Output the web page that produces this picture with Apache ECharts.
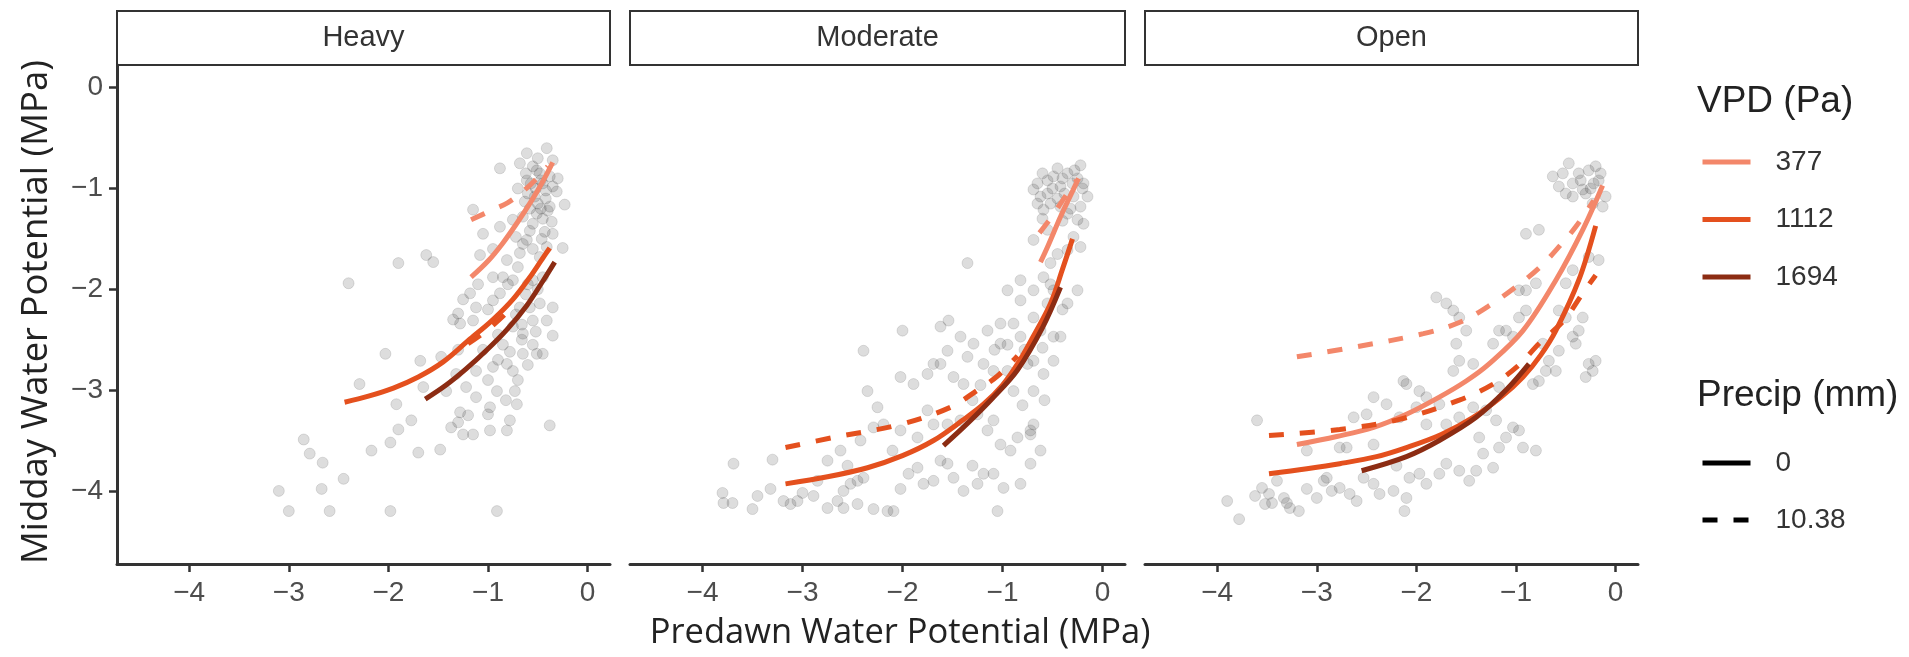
<!DOCTYPE html>
<html>
<head>
<meta charset="utf-8">
<title>Midday vs predawn water potential</title>
<script src="https://cdn.jsdelivr.net/npm/echarts@6/dist/echarts.min.js"></script>
<style>
  html, body { margin: 0; padding: 0; background: #fff; }
  #chart { width: 1909px; height: 657px; }
</style>
</head>
<body>
<div id="chart"></div>
<script>
// panel / legend labels
var panels = ['Heavy', 'Moderate', 'Open'];
var vpdLevels = ['377', '1112', '1694'];
var precipLevels = ['0', '10.38'];
var xTicks = [-4, -3, -2, -1, 0];
var yTicks = [0, -1, -2, -3, -4];

// observed points, [predawn, midday] (MPa)
var heavyPts = [
  [-2.85,-3.49],[-2.79,-3.63],[-2.66,-3.72],[-2.45,-3.88],[-3.10,-4.00],[-2.67,-3.98],[-3.00,-4.20],[-2.59,-4.20],
  [-1.98,-4.20],[-0.91,-4.20],[-2.17,-3.60],[-1.98,-3.52],[-1.90,-3.39],[-1.77,-3.30],[-1.70,-3.62],[-1.48,-3.59],
  [-1.92,-3.14],[-1.65,-2.97],[-2.29,-2.94],[-2.03,-2.64],[-2.40,-1.94],[-1.90,-1.74],[-1.62,-1.66],[-1.55,-1.73],
  [-1.08,-1.66],[-1.15,-1.21],[-0.88,-0.80],[-0.41,-0.60],[-0.61,-0.65],[-0.38,-3.35],[-0.73,-3.01],[-0.71,-3.14],
  [-0.91,-3.01],[-0.98,-3.17],[-1.00,-3.24],[-1.28,-3.22],[-1.30,-3.32],[-1.37,-3.37],[-1.25,-3.44],[-1.15,-3.44],
  [-0.98,-3.40],[-0.81,-3.40],[-0.78,-3.30],[-1.47,-2.67],[-1.68,-2.71],[-1.30,-2.24],[-1.18,-2.04],[-1.28,-2.34],
  [-1.15,-2.31],[-0.35,-2.46],[-0.45,-2.64],[-0.25,-1.59],[-0.23,-1.16],[-0.43,-1.43],[-0.51,-1.25],[-0.88,-1.38],
  [-0.75,-1.31],[-0.95,-1.88],[-0.88,-2.04],[-0.75,-2.37],[-0.65,-2.44],[-0.58,-2.18],[-0.48,-2.14],[-0.41,-2.31],
  [-0.51,-2.64],[-0.65,-2.64],[-0.81,-2.74],[-0.75,-2.81],[-0.95,-2.77],[-1.12,-2.81],[-1.22,-2.97],[-1.32,-2.84],
  [-1.42,-3.01],[-1.12,-3.07],[-0.61,-0.92],[-0.51,-0.82],[-0.35,-0.98],[-0.31,-1.03],[-0.38,-1.18],[-0.35,-1.45],
  [-0.41,-1.58],[-0.61,-1.51],[-0.68,-1.64],[-0.81,-1.71],[-0.85,-1.88],[-0.75,-1.91],[-0.95,-2.11],[-1.12,-2.18],
  [-0.35,-2.18],[-0.55,-2.31],[-0.68,-2.18],[-0.55,-1.91],[-0.45,-1.88],[-0.55,-0.78],[-0.48,-0.85],[-0.45,-0.95],
  [-0.52,-1.00],[-0.60,-1.05],[-0.42,-1.10],[-0.50,-1.15],[-0.58,-1.20],[-0.65,-1.28],[-0.45,-1.30],[-0.55,-1.35],
  [-0.38,-0.88],[-0.62,-0.85],[-0.70,-1.00],[-0.40,-1.22],[-0.50,-0.70],[-0.68,-0.75],[-0.35,-0.72],[-0.30,-0.90],
  [-0.65,-1.55],[-0.55,-1.60],[-0.48,-1.68],[-0.70,-1.78],[-0.60,-1.95],[-0.50,-2.00],[-0.62,-2.05],[-0.72,-2.25],
  [-0.66,-2.50],[-0.55,-2.55],[-0.60,-2.75],[-0.70,-2.90],[-0.85,-2.55],[-0.90,-2.45],[-1.05,-2.60],[-1.00,-2.90],
  [-0.82,-3.10],[-1.20,-3.25],[-1.30,-2.60],[-1.35,-2.30],[-1.25,-2.10],[-1.10,-1.95],[-1.00,-2.20],[-0.95,-1.60],
  [-1.05,-1.45],[-0.47,-0.92],[-0.57,-0.95],[-0.42,-1.02],[-0.53,-1.08],[-0.63,-1.13],[-0.47,-1.20],[-0.36,-1.33],
  [-0.58,-1.42],[-0.46,-1.50],[-0.72,-1.48],[-0.80,-1.95],[-0.66,-2.35],[-0.52,-2.42],[-0.78,-2.62],[-0.90,-2.70]
];
var moderatePts = [
  [-3.69,-3.73],[-3.80,-4.02],[-3.79,-4.12],[-3.70,-4.12],[-3.50,-4.18],[-3.30,-3.69],[-3.32,-3.98],[-3.19,-4.10],
  [-3.12,-4.13],[-3.05,-4.10],[-3.00,-4.02],[-2.89,-4.05],[-2.75,-4.17],[-2.65,-4.10],[-2.59,-4.00],[-2.52,-3.93],
  [-2.45,-3.90],[-2.39,-3.87],[-2.59,-4.17],[-2.45,-4.13],[-2.29,-4.18],[-2.15,-4.20],[-2.09,-4.20],[-2.02,-3.98],
  [-1.94,-3.83],[-1.85,-3.77],[-1.79,-3.93],[-1.69,-3.90],[-1.62,-3.70],[-1.55,-3.73],[-1.49,-3.87],[-1.39,-4.00],
  [-1.25,-3.93],[-1.19,-3.83],[-1.09,-3.83],[-1.05,-4.20],[-0.99,-3.97],[-0.82,-3.93],[-0.72,-3.73],[-0.62,-3.60],
  [-0.72,-3.44],[-0.69,-3.34],[-0.85,-3.47],[-0.92,-3.60],[-1.02,-3.54],[-1.09,-3.30],[-1.15,-3.40],[-1.25,-3.24],
  [-1.42,-3.30],[-1.55,-3.34],[-1.69,-3.34],[-1.85,-3.47],[-2.02,-3.40],[-2.19,-3.34],[-2.29,-3.37],[-2.42,-3.50],
  [-2.62,-3.60],[-2.75,-3.70],[-2.25,-3.17],[-2.35,-3.01],[-2.02,-2.87],[-1.89,-2.94],[-1.75,-2.84],[-1.69,-2.74],
  [-1.62,-2.74],[-1.49,-2.87],[-1.39,-2.94],[-1.35,-2.67],[-1.55,-2.61],[-1.42,-2.47],[-1.29,-2.54],[-1.15,-2.41],
  [-1.02,-2.34],[-0.89,-2.34],[-0.82,-2.47],[-1.02,-2.54],[-1.19,-2.74],[-1.09,-2.81],[-0.95,-2.81],[-0.89,-3.01],
  [-0.75,-2.74],[-0.69,-2.71],[-0.62,-2.41],[-0.55,-2.14],[-0.49,-2.01],[-0.69,-2.28],[-0.82,-2.11],[-0.95,-2.01],
  [-0.82,-1.91],[-0.69,-2.01],[-0.59,-1.88],[-0.49,-2.47],[-0.42,-2.47],[-0.35,-2.14],[-0.25,-2.01],[-0.49,-2.71],
  [-0.59,-2.84],[-0.69,-3.01],[-2.00,-2.41],[-2.39,-2.61],[-1.62,-2.37],[-1.54,-2.31],[-1.35,-1.74],[-0.52,-1.74],
  [-0.45,-1.65],[-0.35,-1.61],[-0.69,-1.51],[-0.62,-1.08],[-0.55,-0.92],[-0.49,-0.88],[-0.42,-0.98],[-0.35,-0.85],
  [-0.22,-0.77],[-0.19,-0.95],[-0.29,-1.08],[-0.22,-1.18],[-0.15,-1.08],[-0.19,-1.35],[-0.25,-1.31],[-0.35,-1.25],
  [-0.42,-1.18],[-0.52,-1.15],[-0.59,-1.21],[-0.65,-1.15],[-0.69,-1.01],[-0.55,-1.41],[-0.29,-1.48],[-0.22,-1.58],
  [-0.72,-3.40],[-0.60,-0.85],[-0.45,-0.80],[-0.40,-0.90],[-0.50,-1.00],[-0.38,-1.05],[-0.30,-0.95],[-0.25,-0.90],
  [-0.45,-1.10],[-0.55,-1.05],[-0.32,-1.20],[-0.40,-1.32],[-0.60,-1.30],[-0.28,-0.82],[-0.65,-0.95],[-0.20,-1.00],
  [-0.52,-1.95],[-0.40,-2.20],[-0.60,-2.58],[-0.78,-2.60],[-0.95,-2.55],[-1.08,-2.60],[-1.22,-2.95],[-1.30,-3.10],
  [-0.80,-3.15],[-0.58,-3.10],[-1.75,-3.20],[-2.10,-3.60],[-2.55,-3.75],[-2.85,-3.90],[-3.45,-4.05],[-1.30,-3.75]
];
var openPts = [
  [-3.90,-4.10],[-3.78,-4.28],[-3.55,-3.97],[-3.52,-4.13],[-3.48,-4.03],[-3.40,-3.90],[-3.33,-4.07],[-3.27,-4.17],
  [-3.18,-4.20],[-3.10,-3.98],[-3.00,-4.07],[-2.93,-3.90],[-2.77,-3.97],[-2.67,-4.03],[-2.60,-4.10],[-2.53,-3.87],
  [-2.43,-3.93],[-2.37,-4.03],[-2.23,-4.00],[-2.12,-4.20],[-2.10,-4.07],[-2.07,-3.87],[-1.97,-3.83],[-1.90,-3.93],
  [-1.77,-3.83],[-1.70,-3.73],[-1.57,-3.80],[-1.47,-3.90],[-1.40,-3.80],[-1.33,-3.63],[-1.23,-3.77],[-1.17,-3.57],
  [-1.10,-3.47],[-1.03,-3.37],[-0.97,-3.40],[-0.93,-3.57],[-0.80,-3.60],[-1.20,-3.30],[-1.30,-3.20],[-1.43,-3.17],
  [-1.57,-3.27],[-1.70,-3.34],[-1.77,-3.14],[-1.90,-3.07],[-1.97,-3.01],[-2.10,-2.94],[-2.13,-2.91],[-2.30,-3.14],
  [-2.43,-3.07],[-2.50,-3.24],[-2.63,-3.27],[-2.70,-3.57],[-2.77,-3.57],[-2.43,-3.54],[-3.60,-3.30],[-3.10,-3.60],
  [-2.90,-3.87],[-1.80,-2.08],[-1.63,-2.21],[-1.70,-2.14],[-1.57,-2.28],[-1.50,-2.41],[-1.60,-2.54],[-1.63,-2.81],
  [-1.57,-2.71],[-1.43,-2.74],[-1.23,-2.54],[-1.17,-2.41],[-1.10,-2.41],[-1.03,-2.47],[-0.97,-2.28],[-0.90,-2.21],
  [-0.97,-2.01],[-0.90,-2.01],[-0.80,-1.94],[-0.77,-1.41],[-0.90,-1.45],[-0.57,-2.21],[-0.50,-2.28],[-0.43,-2.47],
  [-0.40,-2.54],[-0.37,-2.41],[-0.33,-2.28],[-0.27,-2.74],[-0.23,-2.81],[-0.20,-2.71],[-0.30,-2.87],[-0.50,-1.94],
  [-0.43,-1.81],[-0.27,-1.68],[-0.17,-1.71],[-0.63,-0.88],[-0.57,-0.98],[-0.50,-1.05],[-0.43,-0.95],[-0.37,-0.85],
  [-0.27,-0.82],[-0.20,-0.78],[-0.17,-0.92],[-0.10,-1.08],[-0.13,-1.18],[-0.23,-1.15],[-0.30,-1.05],[-0.43,-1.08],
  [-0.53,-0.85],[-0.47,-0.75],[-0.33,-1.01],[-0.73,-2.54],[-0.67,-2.71],[-0.57,-2.61],[-0.60,-2.81],[-1.17,-2.97],
  [-0.83,-2.94],[-2.00,-3.17],[-2.17,-3.27],[-1.90,-3.34],[-1.37,-3.47],[-0.77,-2.91],[-0.70,-2.81],[-0.22,-0.95],
  [-0.15,-0.85],[-0.35,-0.92],[-0.25,-1.00],[-3.45,-4.12],[-3.62,-4.05],[-3.30,-4.12],[-2.85,-4.00],[-2.20,-3.75]
];

// fitted curves, [predawn, midday]
var heavy377Solid = [[-1.17,-1.88],[-1.00,-1.72],[-0.85,-1.54],[-0.70,-1.33],[-0.55,-1.10],[-0.45,-0.93],[-0.35,-0.74]];
var heavy377Dash = [[-1.17,-1.31],[-0.95,-1.21],[-0.80,-1.14],[-0.65,-1.03],[-0.52,-0.91],[-0.40,-0.78]];
var heavy1112Solid = [[-2.44,-3.12],[-2.20,-3.06],[-1.95,-2.98],[-1.70,-2.87],[-1.45,-2.72],[-1.20,-2.51],[-0.95,-2.30],[-0.75,-2.10],[-0.58,-1.88],[-0.45,-1.69],[-0.38,-1.59]];
var heavy1112Dash = [[-1.20,-2.54],[-1.00,-2.40],[-0.80,-2.22]];
var heavy1694Solid = [[-1.63,-3.09],[-1.42,-2.95],[-1.22,-2.79],[-1.02,-2.61],[-0.81,-2.40],[-0.61,-2.16],[-0.45,-1.92],[-0.33,-1.73]];

var moderate377Solid = [[-0.62,-1.73],[-0.55,-1.58],[-0.42,-1.28],[-0.32,-1.07],[-0.24,-0.90]];
var moderate377Dash = [[-0.63,-1.44],[-0.50,-1.27],[-0.38,-1.09],[-0.26,-0.92]];
var moderate1112Solid = [[-3.17,-3.93],[-2.75,-3.86],[-2.35,-3.77],[-2.00,-3.65],[-1.69,-3.50],[-1.40,-3.30],[-1.19,-3.14],[-1.00,-2.95],[-0.85,-2.74],[-0.70,-2.48],[-0.52,-2.14],[-0.40,-1.80],[-0.30,-1.50]];
var moderate1112Dash = [[-3.17,-3.57],[-2.69,-3.47],[-2.02,-3.34],[-1.52,-3.17],[-1.25,-3.00],[-1.05,-2.86],[-0.85,-2.66]];
var moderate1694Solid = [[-1.59,-3.55],[-1.35,-3.33],[-1.10,-3.08],[-0.85,-2.80],[-0.60,-2.38],[-0.42,-1.98]];

var open377Solid = [[-3.20,-3.54],[-2.80,-3.46],[-2.43,-3.37],[-2.10,-3.24],[-1.77,-3.07],[-1.50,-2.91],[-1.27,-2.74],[-0.93,-2.41],[-0.60,-1.91],[-0.33,-1.41],[-0.13,-0.97]];
var open377Dash = [[-3.20,-2.67],[-2.60,-2.57],[-1.93,-2.44],[-1.57,-2.33],[-1.28,-2.17],[-1.02,-1.99],[-0.77,-1.79],[-0.57,-1.58],[-0.40,-1.38],[-0.22,-1.12]];
var open1112Solid = [[-3.48,-3.83],[-3.10,-3.78],[-2.77,-3.73],[-2.40,-3.66],[-2.10,-3.57],[-1.75,-3.44],[-1.43,-3.27],[-1.15,-3.07],[-0.93,-2.87],[-0.75,-2.65],[-0.60,-2.41],[-0.37,-1.91],[-0.20,-1.37]];
var open1112Dash = [[-3.48,-3.45],[-2.77,-3.39],[-2.17,-3.29],[-1.57,-3.10],[-1.23,-2.94],[-0.98,-2.76],[-0.77,-2.54],[-0.52,-2.31],[-0.33,-2.04],[-0.20,-1.86]];
var open1694Solid = [[-2.55,-3.80],[-2.10,-3.66],[-1.77,-3.50],[-1.40,-3.27],[-1.10,-3.00],[-0.87,-2.74]];

var vpdColors = {'377': '#f3876a', '1112': '#e4501e', '1694': '#8c2c13'};
var dashPattern = [15, 16];

var panelPts = [heavyPts, moderatePts, openPts];
var panelCurves = [
  [['377', heavy377Solid, 0], ['377', heavy377Dash, 1], ['1112', heavy1112Solid, 0], ['1112', heavy1112Dash, 1], ['1694', heavy1694Solid, 0]],
  [['377', moderate377Solid, 0], ['377', moderate377Dash, 1], ['1112', moderate1112Solid, 0], ['1112', moderate1112Dash, 1], ['1694', moderate1694Solid, 0]],
  [['377', open377Solid, 0], ['377', open377Dash, 1], ['1112', open1112Solid, 0], ['1112', open1112Dash, 1], ['1694', open1694Solid, 0]]
];

var gridBoxes = [{left: 117, width: 493}, {left: 630, width: 495}, {left: 1145, width: 493}];
var plotTop = 65, plotHeight = 499;

function minusFmt(v) {
    return v < 0 ? '\u2212' + Math.abs(v) : String(v);
}

var grids = [], xAxes = [], yAxes = [], series = [], graphics = [];

panels.forEach(function (name, i) {
    var g = gridBoxes[i];
    grids.push({left: g.left, top: plotTop, width: g.width, height: plotHeight, containLabel: false, outerBoundsMode: 'none'});
    xAxes.push({
        type: 'value', gridIndex: i, min: -4.725, max: 0.225,
        axisLine: {show: true, onZero: false, lineStyle: {color: '#333', width: 3}},
        axisTick: {show: true, length: 8, customValues: xTicks, lineStyle: {color: '#333', width: 2.5}},
        axisLabel: {customValues: xTicks, formatter: minusFmt, fontSize: 28, color: '#4d4d4d', margin: 15, fontFamily: 'Liberation Sans'},
        splitLine: {show: false}
    });
    yAxes.push({
        type: 'value', gridIndex: i, min: -4.725, max: 0.225, show: i === 0,
        axisLine: {show: true, onZero: false, lineStyle: {color: '#333', width: 3}},
        axisTick: {show: true, length: 8, customValues: yTicks, lineStyle: {color: '#333', width: 2.5}},
        axisLabel: {customValues: yTicks, formatter: minusFmt, fontSize: 28, color: '#4d4d4d', margin: 14, fontFamily: 'Liberation Sans'},
        splitLine: {show: false}
    });
    series.push({
        type: 'scatter', name: 'obs', xAxisIndex: i, yAxisIndex: i, data: panelPts[i],
        symbolSize: 11, silent: true,
        itemStyle: {color: 'rgba(0,0,0,0.17)', borderColor: 'rgba(0,0,0,0.14)', borderWidth: 1}
    });
    panelCurves[i].forEach(function (c) {
        series.push({
            type: 'line', name: c[0], xAxisIndex: i, yAxisIndex: i, data: c[1],
            smooth: 0.35, symbol: 'none', silent: true, z: 3,
            color: vpdColors[c[0]],
            lineStyle: {color: vpdColors[c[0]], width: 5, type: c[2] ? dashPattern : 'solid', cap: 'butt'}
        });
    });
    // facet strip
    graphics.push({
        type: 'rect', shape: {x: g.left, y: 11, width: g.width, height: 54},
        style: {fill: '#fff', stroke: '#333', lineWidth: 2}
    });
    graphics.push({
        type: 'text', x: g.left + g.width / 2, y: 38,
        style: {text: name, fontSize: 29, fontFamily: 'Liberation Sans', fill: '#333', align: 'center', verticalAlign: 'middle'}
    });
});

// legend-only series for precipitation line types
series.push({type: 'line', name: '0', xAxisIndex: 0, yAxisIndex: 0, data: [], symbol: 'none', color: '#000', lineStyle: {color: '#000', width: 5}});
series.push({type: 'line', name: '10.38', xAxisIndex: 0, yAxisIndex: 0, data: [], symbol: 'none', color: '#000', lineStyle: {color: '#000', width: 5, type: dashPattern}});

graphics.push({
    type: 'text', x: 900, y: 633,
    style: {text: 'Predawn Water Potential (MPa)', fontSize: 34.5, fontFamily: 'Open Sans', fill: '#222', align: 'center', verticalAlign: 'middle'}
});
graphics.push({
    type: 'text', x: 37, y: 312, rotation: Math.PI / 2,
    style: {text: 'Midday Water Potential (MPa)', fontSize: 36.5, fontFamily: 'Open Sans', fill: '#222', align: 'center', verticalAlign: 'middle'}
});
graphics.push({
    type: 'text', x: 1697, y: 102,
    style: {text: 'VPD (Pa)', fontSize: 37, fontFamily: 'Liberation Sans', fill: '#222', align: 'left', verticalAlign: 'middle'}
});
graphics.push({
    type: 'text', x: 1697, y: 396,
    style: {text: 'Precip (mm)', fontSize: 37, fontFamily: 'Liberation Sans', fill: '#222', align: 'left', verticalAlign: 'middle'}
});

var legendText = {fontSize: 28, color: '#333', fontFamily: 'Liberation Sans', lineHeight: 30, padding: [0, 0, 0, 20]};
var legendIconStyle = {color: 'rgba(0,0,0,0)', borderWidth: 0, opacity: 0};

var option = {
    animation: false,
    backgroundColor: '#fff',
    grid: grids,
    xAxis: xAxes,
    yAxis: yAxes,
    legend: [
        {data: vpdLevels, orient: 'vertical', left: 1700, top: 147, padding: 0, itemWidth: 48, itemHeight: 30, itemGap: 27.5,
         selectedMode: false, textStyle: legendText, itemStyle: legendIconStyle, lineStyle: {width: 'inherit'}},
        {data: precipLevels, orient: 'vertical', left: 1700, top: 448, padding: 0, itemWidth: 48, itemHeight: 30, itemGap: 27,
         selectedMode: false, textStyle: legendText, itemStyle: legendIconStyle, lineStyle: {width: 'inherit'}}
    ],
    graphic: graphics,
    series: series
};

var chart = echarts.init(document.getElementById('chart'));
chart.setOption(option);
</script>
</body>
</html>
